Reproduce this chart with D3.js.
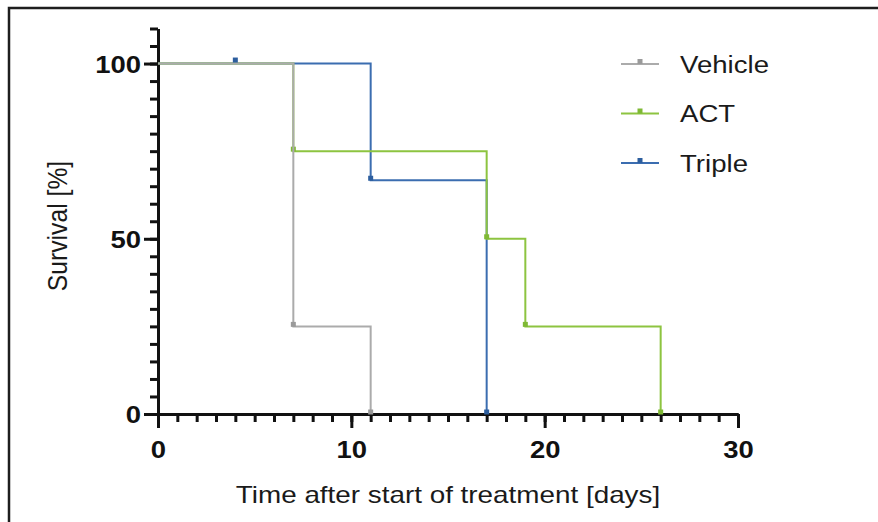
<!DOCTYPE html>
<html>
<head>
<meta charset="utf-8">
<script src="https://d3js.org/d3.v7.min.js"></script>
<style>
  body { margin: 0; background: #fff; }
  svg { display: block; font-family: "Liberation Sans", Arial, sans-serif; }
</style>
</head>
<body>
<svg id="chart" width="878" height="522"></svg>
<script>
// survival data (days, percent)
var vehicleDays = [0, 7, 11];
var vehicleSurv = [100, 25, 0];
var actDays = [0, 7, 17, 19, 26];
var actSurv = [100, 75, 50, 25, 0];
var tripleDays = [0, 11, 17];
var tripleSurv = [100, 66.7, 0];
var tripleCensorDays = [4];
var tripleCensorSurv = [100];

var seriesNames = ["Vehicle", "ACT", "Triple"];
var seriesColors = ["#ababab", "#8dc440", "#3b6db0"];
var markerColors = ["#9a9a9a", "#7fb935", "#2d5e9e"];

var xTicks = [0, 10, 20, 30];
var yTicks = [0, 50, 100];

var svg = d3.select("#chart");
var stretch = 1.12; // glyphs in the picture are a bit wide

// frame (only top and left visible)
svg.append("path")
  .attr("d", "M9,522 V8 H878")
  .attr("fill", "none")
  .attr("stroke", "#1e1e1e")
  .attr("stroke-width", 2.5);

var x = d3.scaleLinear().domain([0, 30]).range([158, 738]);
var y = d3.scaleLinear().domain([0, 110]).range([414, 28.5]);

// minor ticks
svg.append("g")
  .attr("class", "minor")
  .attr("transform", "translate(0,414)")
  .call(d3.axisBottom(x).tickValues(d3.range(0, 31)).tickSize(8).tickSizeOuter(0).tickFormat(""));
svg.append("g")
  .attr("class", "minor")
  .attr("transform", "translate(158,0)")
  .call(d3.axisLeft(y).tickValues(d3.range(0, 111, 5)).tickSize(8).tickSizeOuter(0).tickFormat(""));

// major ticks + labels
var gx = svg.append("g")
  .attr("transform", "translate(0,414)")
  .call(d3.axisBottom(x).tickValues(xTicks).tickSize(14).tickSizeOuter(0));
var gy = svg.append("g")
  .attr("transform", "translate(158,0)")
  .call(d3.axisLeft(y).tickValues(yTicks).tickSize(14).tickSizeOuter(0));

svg.selectAll(".tick line").attr("stroke", "#111").attr("stroke-width", 3);
svg.selectAll(".domain").attr("stroke", "#111").attr("stroke-width", 3);

gx.selectAll("text")
  .attr("y", 44).attr("dy", 0)
  .attr("transform", "scale(" + stretch + ",1)")
  .attr("fill", "#111").attr("font-size", 24.5).attr("font-weight", "bold")
  .attr("font-family", "'Liberation Sans', Arial, sans-serif");
gy.selectAll("text")
  .attr("x", -17 / stretch).attr("dy", "0.36em")
  .attr("transform", "scale(" + stretch + ",1)")
  .attr("fill", "#111").attr("font-size", 24.5).attr("font-weight", "bold")
  .attr("font-family", "'Liberation Sans', Arial, sans-serif");

// axis titles
svg.append("text")
  .attr("transform", "translate(448,503) scale(1.16,1)")
  .attr("text-anchor", "middle")
  .attr("font-size", 24)
  .attr("fill", "#1a1a1a")
  .text("Time after start of treatment [days]");
svg.append("text")
  .attr("transform", "translate(67,226) rotate(-90) scale(1.03," + stretch + ")")
  .attr("text-anchor", "middle")
  .attr("font-size", 24)
  .attr("fill", "#1a1a1a")
  .text("Survival [%]");

// survival curves, Triple drawn first so Vehicle ends up on top
var series = [
  { days: vehicleDays, surv: vehicleSurv },
  { days: actDays, surv: actSurv },
  { days: tripleDays, surv: tripleSurv }
];
var line = d3.line()
  .x(function(d) { return x(d[0]); })
  .y(function(d) { return y(d[1]); })
  .curve(d3.curveStepAfter);

[2, 1, 0].forEach(function(i) {
  var s = series[i];
  var pts = s.days.map(function(d, k) { return [d, s.surv[k]]; });
  svg.append("path")
    .datum(pts)
    .attr("fill", "none")
    .attr("stroke", seriesColors[i])
    .attr("stroke-width", 2)
    .attr("d", line);
  svg.selectAll(null)
    .data(pts.slice(1))
    .enter().append("rect")
    .attr("x", function(d) { return x(d[0]) - 2.5; })
    .attr("y", function(d) { return y(d[1]) - 4.5; })
    .attr("width", 5)
    .attr("height", 5)
    .attr("fill", markerColors[i]);
});

// censored mark on Triple
svg.selectAll(null)
  .data(tripleCensorDays)
  .enter().append("rect")
  .attr("x", function(d) { return x(d) - 2.5; })
  .attr("y", function(d, k) { return y(tripleCensorSurv[k]) - 6; })
  .attr("width", 5)
  .attr("height", 5)
  .attr("fill", markerColors[2]);

// legend
var legendY = d3.scalePoint().domain(seriesNames).range([64, 163]);
var lg = svg.append("g").selectAll("g")
  .data(seriesNames)
  .enter().append("g")
  .attr("transform", function(d) { return "translate(0," + legendY(d) + ")"; });
lg.append("line")
  .attr("x1", 621).attr("x2", 659)
  .attr("stroke", function(d, i) { return seriesColors[i]; })
  .attr("stroke-width", 2);
lg.append("rect")
  .attr("x", 637.5).attr("y", -5).attr("width", 5).attr("height", 5)
  .attr("fill", function(d, i) { return markerColors[i]; });
lg.append("text")
  .attr("transform", "translate(680,0) scale(1.15,1)")
  .attr("dy", "0.36em")
  .attr("font-size", 24)
  .attr("fill", "#1a1a1a")
  .text(function(d) { return d; });
</script>
</body>
</html>
